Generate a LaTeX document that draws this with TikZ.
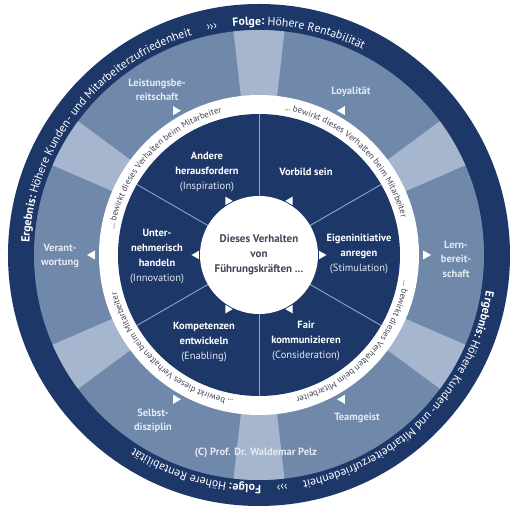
\documentclass[tikz,border=0pt]{standalone}
\usepackage{fontspec}
\setmainfont{PT Sans}
\usepackage{tikz}
\usetikzlibrary{decorations.text}
\definecolor{pzNavy}{HTML}{1D3769}
\definecolor{pzMid}{HTML}{7088AA}
\definecolor{pzLight}{HTML}{A6B6CE}
\definecolor{pzLine}{HTML}{8FA4C6}
\definecolor{pzInk}{HTML}{44465A}
\definecolor{pzPale}{HTML}{E4EAF3}
\newcommand{\pzRingB}{\fontsize{11.8}{13}\selectfont\bfseries}
\newcommand{\pzRingR}{\fontsize{11.8}{13}\selectfont\mdseries}
\newcommand{\pzBand}{\fontsize{8.9}{10}\selectfont\mdseries}
\tikzset{
  pz-lead/.style={
    align=center, text=white, inner sep=0pt,
    font=\fontsize{10.5}{15}\selectfont\bfseries
  },
  pz-effect/.style={
    align=center, text=pzPale, inner sep=0pt,
    font=\fontsize{10.5}{14.5}\selectfont\bfseries
  },
  pz-core/.style={
    align=center, text=pzInk, inner sep=0pt,
    font=\fontsize{11}{15}\selectfont\bfseries
  },
  pz-div/.style={draw=pzLine, line width=0.9pt},
  pz-tip/.style={fill=white},
  pz-outer/.style={decorate, decoration={text along path, text color=white, text={#1}}},
  pz-band/.style={decorate, decoration={text along path, text color=pzInk, text={#1}}},
}

\begin{document}
\begin{tikzpicture}[x=1pt, y=1pt]
  \useasboundingbox (-259,-258) rectangle (260,255);
  \fill[white] (-259,-258) rectangle (260,255);

  % rings
  \fill[pzNavy] (0,0) circle (251);
  \fill[pzMid] (0,0) circle (225);
  \foreach \a in {30,90,...,330}
    \fill[pzLight] (0,0) -- ({\a-6.5}:225) arc[start angle=\a-6.5, end angle=\a+6.5, radius=225] -- cycle;
  \fill[white] (0,0) circle (160);
  \fill[pzNavy] (0,0) circle (141);
  \foreach \a in {30,90,...,330}
    \draw[pz-div] (\a:59) -- (\a:141);
  \fill[white] (0,0) circle (59);

  % arrow tips
  \foreach \a in {0,60,...,300}{
    \fill[pz-tip, rotate=\a] (60,-4.3) -- (67.5,0) -- (60,4.3) -- cycle;
    \fill[pz-tip, rotate=\a] (164,-4.5) -- (172,0) -- (164,4.5) -- cycle;
  }

  % outer ring text
  \foreach \r in {0,174}{
    \path[pz-outer={|\pzRingB|Ergebnis:|\pzRingR| Höhere Kunden- und Mitarbeiterzufriedenheit}]
      ({177+\r}:230) arc[start angle=177+\r, end angle=60+\r, radius=230];
    \path[pz-outer={|\pzRingR|›››}]
      ({103+\r}:230) arc[start angle=103+\r, end angle=80+\r, radius=230];
    \path[pz-outer={|\pzRingB|Folge:|\pzRingR| Höhere Rentabilität}]
      ({96.5+\r}:230) arc[start angle=96.5+\r, end angle=20+\r, radius=230];
  }

  % white band text
  \foreach \s in {170,80,-10,-100}
    \path[pz-band={|\pzBand|... bewirkt dieses Verhalten beim Mitarbeiter}]
      (\s:147) arc[start angle=\s, end angle=\s-88, radius=147];

  \node[pz-core] (core) at (0,0) {Dieses Verhalten\\von\\Führungskräften ...};

  \node[pz-lead] (insp)  at (-52,83)  {Andere\\herausfordern\\{\mdseries\color{pzPale}(Inspiration)}};
  \node[pz-lead] (model) at (47,83)   {Vorbild sein};
  \node[pz-lead] (stim)  at (100,1)   {Eigeninitiative\\anregen\\{\mdseries\color{pzPale}(Stimulation)}};
  \node[pz-lead] (innov) at (-102,-1) {Unter-\\nehmerisch\\handeln\\{\mdseries\color{pzPale}(Innovation)}};
  \node[pz-lead] (enab)  at (-55,-87) {Kompetenzen\\entwickeln\\{\mdseries\color{pzPale}(Enabling)}};
  \node[pz-lead] (cons)  at (47,-86)  {Fair\\kommunizieren\\{\mdseries\color{pzPale}(Consideration)}};

  \node[pz-effect] (perf)  at (-102,165) {Leistungsbe-\\reitschaft};
  \node[pz-effect] (loyal) at (92,163)   {Loyalität};
  \node[pz-effect] (learn) at (197,-4)   {Lern-\\bereit-\\schaft};
  \node[pz-effect] (resp)  at (-199,-1)  {Verant-\\wortung};
  \node[pz-effect] (disc)  at (-106,-166){Selbst-\\disziplin};
  \node[pz-effect] (team)  at (98,-163)  {Teamgeist};
  \node[pz-effect] (copy)  at (-3,-198)  {(C) Prof. Dr. Waldemar Pelz};
\end{tikzpicture}
\end{document}
